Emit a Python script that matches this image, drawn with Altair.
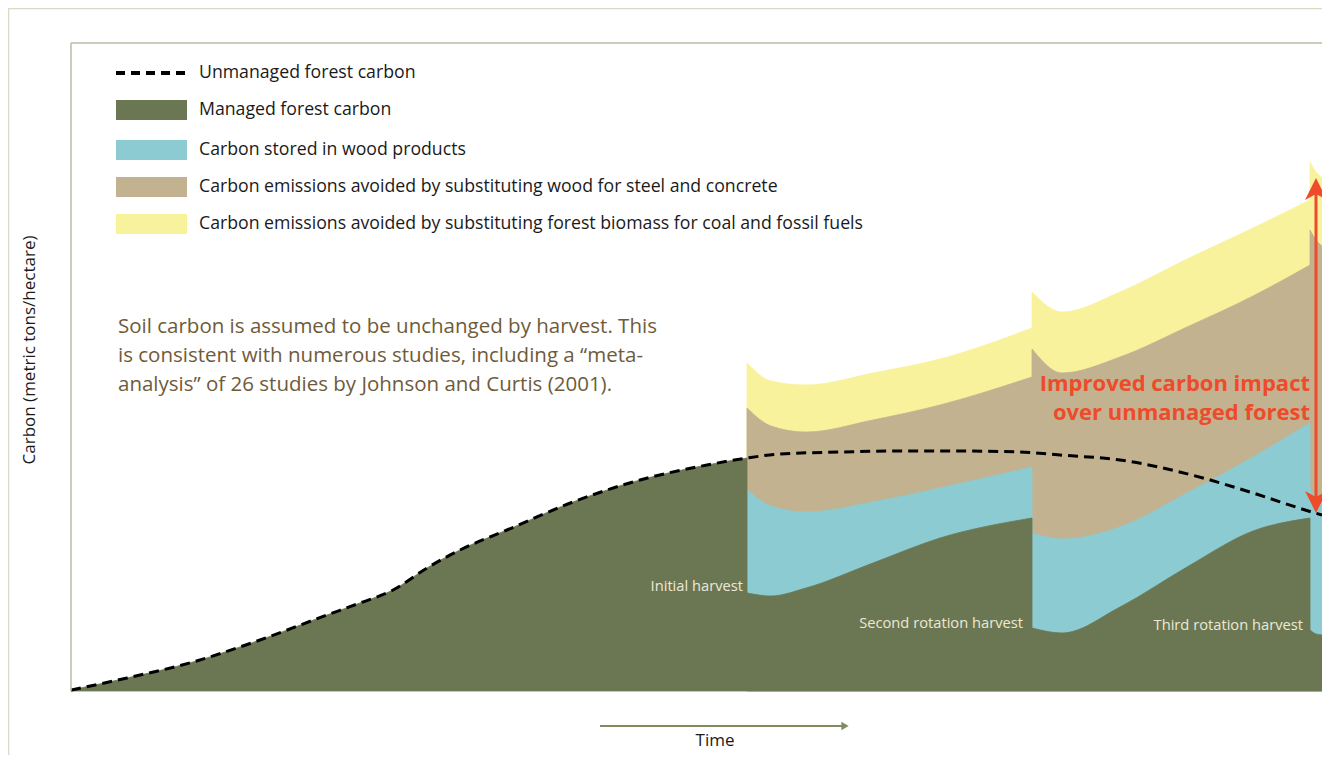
import altair as alt
import pandas as pd

# ---------------- data (time units, carbon units) ----------------
unmanaged_t = [0, 56, 122, 189, 256, 289, 322, 356, 389, 436, 502, 569, 636, 676,
               709, 769, 829, 889, 949, 989, 1049, 1132, 1182, 1244, 1251]
unmanaged_c = [1, 13, 29, 51, 76, 88, 101, 123, 141, 161, 189, 211, 226, 233,
               237, 239, 240, 240, 239, 236, 231, 213, 198, 178, 176]

growth_t = unmanaged_t[:14]
growth_c = unmanaged_c[:14]

rot1_t = [676, 700, 735, 802, 869, 961]
rot1_green = [98, 95, 103, 128, 153, 173]
rot1_blue = [201, 185, 179, 189, 203, 224]
rot1_tan = [283, 265, 259, 271, 286, 314]
rot1_yellow = [328, 310, 306, 318, 332, 363]

rot2_t = [961, 991, 1049, 1116, 1182, 1239]
rot2_green = [63, 58, 84, 124, 160, 173]
rot2_blue = [158, 152, 164, 198, 234, 268]
rot2_tan = [342, 318, 334, 364, 395, 426]
rot2_yellow = [399, 379, 399, 432, 463, 491]

rot3_t = [1239, 1245, 1251]
rot3_green = [61, 57, 56]
rot3_blue = [201, 193, 188]
rot3_tan = [461, 451, 445]
rot3_yellow = [529, 519, 513]

legend_labels = [
    "Unmanaged forest carbon",
    "Managed forest carbon",
    "Carbon stored in wood products",
    "Carbon emissions avoided by substituting wood for steel and concrete",
    "Carbon emissions avoided by substituting forest biomass for coal and fossil fuels",
]
soil_lines = [
    "Soil carbon is assumed to be unchanged by harvest. This",
    "is consistent with numerous studies, including a \u201cmeta-",
    "analysis\u201d of 26 studies by Johnson and Curtis (2001).",
]
impact_lines = ["Improved carbon impact", "over unmanaged forest"]
harvest_labels = ["Initial harvest", "Second rotation harvest", "Third rotation harvest"]

GREEN = "#6b7752"
BLUE = "#8ccbd2"
TAN = "#c2b290"
YELLOW = "#f9f29d"
RED = "#ee4b2b"
FRAME = "#b8bea3"
OUTER = "#dcd8c6"
FONT = "Open Sans"

XS = alt.Scale(domain=[0, 1251], nice=False, zero=False)
YS = alt.Scale(domain=[0, 648], nice=False, zero=False)


def X(f):
    return alt.X(f"{f}:Q", scale=XS, axis=None)


def Y(f):
    return alt.Y(f"{f}:Q", scale=YS, axis=None, stack=None)


def layer_df(parts):
    rows = []
    for seg, (ts, cs) in enumerate(parts):
        for t, c in zip(ts, cs):
            rows.append({"t": t, "c": c, "seg": seg})
    return pd.DataFrame(rows)


def area(df, color):
    return alt.Chart(df).mark_area(
        color=color, interpolate="monotone", stroke=color, strokeWidth=0.8
    ).encode(x=X("t"), y=Y("c"), detail="seg:N")


yellow_df = layer_df([(rot1_t, rot1_yellow), (rot2_t, rot2_yellow), (rot3_t, rot3_yellow)])
tan_df = layer_df([(rot1_t, rot1_tan), (rot2_t, rot2_tan), (rot3_t, rot3_tan)])
blue_df = layer_df([(rot1_t, rot1_blue), (rot2_t, rot2_blue), (rot3_t, rot3_blue)])
green_df = layer_df([(growth_t, growth_c), (rot1_t, rot1_green), (rot2_t, rot2_green), (rot3_t, rot3_green)])
unmanaged_df = pd.DataFrame({"t": unmanaged_t, "c": unmanaged_c})

areas = area(yellow_df, YELLOW) + area(tan_df, TAN) + area(blue_df, BLUE) + area(green_df, GREEN)

dashed = alt.Chart(unmanaged_df).mark_line(
    color="black", strokeWidth=3, strokeDash=[10, 6], interpolate="monotone"
).encode(x=X("t"), y=Y("c"))

# ---------------- frames ----------------
vframes = pd.DataFrame({"t": [0, -62.5], "c": [0, -72], "c2": [648, 683], "col": [FRAME, OUTER]})
hframes = pd.DataFrame({"t": [0, -62.5], "t2": [1251, 1251], "c": [648, 682.5], "col": [FRAME, OUTER]})
vf = alt.Chart(vframes).mark_rule(strokeWidth=1.5).encode(
    x=X("t"), y=Y("c"), y2="c2", color=alt.Color("col:N", scale=None))
hf = alt.Chart(hframes).mark_rule(strokeWidth=1.5).encode(
    x=X("t"), x2="t2", y=Y("c"), color=alt.Color("col:N", scale=None))

# ---------------- legend ----------------
legend_rows = [618, 581, 541, 504, 467]
leg_sw = pd.DataFrame({
    "t": [45] * 4, "t2": [116] * 4,
    "c": [r - 10 for r in legend_rows[1:]], "c2": [r + 10 for r in legend_rows[1:]],
    "col": [GREEN, BLUE, TAN, YELLOW],
})
leg_rect = alt.Chart(leg_sw).mark_rect().encode(
    x=X("t"), x2="t2", y=Y("c"), y2="c2", color=alt.Color("col:N", scale=None))
leg_dash = alt.Chart(pd.DataFrame({"t": [45], "t2": [116], "c": [legend_rows[0]]})).mark_rule(
    color="black", strokeWidth=4, strokeDash=[9, 6]).encode(x=X("t"), x2="t2", y=Y("c"))
leg_text = alt.Chart(pd.DataFrame({"t": [128] * 5, "c": legend_rows, "txt": legend_labels})).mark_text(
    align="left", baseline="middle", font=FONT, fontSize=17.7, color="#1a1a1a").encode(
    x=X("t"), y=Y("c"), text="txt:N")

# ---------------- annotations ----------------
soil = alt.Chart(pd.DataFrame({"t": [47] * 3, "c": [364, 335, 306], "txt": soil_lines})).mark_text(
    align="left", baseline="middle", font=FONT, fontSize=20.5, color="#6e5b3a").encode(
    x=X("t"), y=Y("c"), text="txt:N")

impact = alt.Chart(pd.DataFrame({"t": [1239] * 2, "c": [307, 278], "txt": impact_lines})).mark_text(
    align="right", baseline="middle", font=FONT, fontSize=22, fontWeight="bold", color=RED).encode(
    x=X("t"), y=Y("c"), text="txt:N")

harv = alt.Chart(pd.DataFrame({"t": [672, 952, 1232], "c": [104, 67, 65], "txt": harvest_labels})).mark_text(
    align="right", baseline="middle", font=FONT, fontSize=14.7, color="#ebe8d8").encode(
    x=X("t"), y=Y("c"), text="txt:N")

# double arrow
arrow_rule = alt.Chart(pd.DataFrame({"t": [1245], "c": [188], "c2": [504]})).mark_rule(
    color=RED, strokeWidth=3).encode(x=X("t"), y=Y("c"), y2="c2")
heads = pd.DataFrame({
    "t": [1245, 1245], "c": [502, 189],
    "shape": ["M0,-1 L1,1 L0,0.45 L-1,1 Z", "M0,1 L1,-1 L0,-0.45 L-1,-1 Z"],
})
arrow_heads = alt.Chart(heads).mark_point(filled=True, color=RED, opacity=1, size=484, strokeWidth=0).encode(
    x=X("t"), y=Y("c"), shape=alt.Shape("shape:N", scale=None))

# axis titles
ytitle = alt.Chart(pd.DataFrame({"t": [-41], "c": [341], "txt": ["Carbon (metric tons/hectare)"]})).mark_text(
    angle=270, align="center", baseline="middle", font=FONT, fontSize=17, color="#1a1a1a").encode(
    x=X("t"), y=Y("c"), text="txt:N")
xtitle = alt.Chart(pd.DataFrame({"t": [644], "c": [-50], "txt": ["Time"]})).mark_text(
    align="center", baseline="middle", font=FONT, fontSize=17, color="#1a1a1a").encode(
    x=X("t"), y=Y("c"), text="txt:N")
time_line = alt.Chart(pd.DataFrame({"t": [529], "t2": [772], "c": [-35]})).mark_rule(
    color="#7f8c62", strokeWidth=2).encode(x=X("t"), x2="t2", y=Y("c"))
time_head = alt.Chart(pd.DataFrame({"t": [774], "c": [-35]})).mark_point(
    filled=True, color="#7f8c62", opacity=1, size=70, shape="triangle-right", strokeWidth=0).encode(
    x=X("t"), y=Y("c"))

chart = alt.layer(
    areas, dashed, vf, hf, leg_rect, leg_dash, leg_text, soil, impact, harv,
    arrow_rule, arrow_heads, ytitle, xtitle, time_line, time_head,
).properties(
    width=1251, height=648,
    padding={"left": 63, "top": 35, "right": 0, "bottom": 64},
    autosize=alt.AutoSizeParams(type="none"),
    background="white",
).configure_view(stroke=None)

chart.save("out.html", embed_options={"renderer": "svg", "actions": False})
